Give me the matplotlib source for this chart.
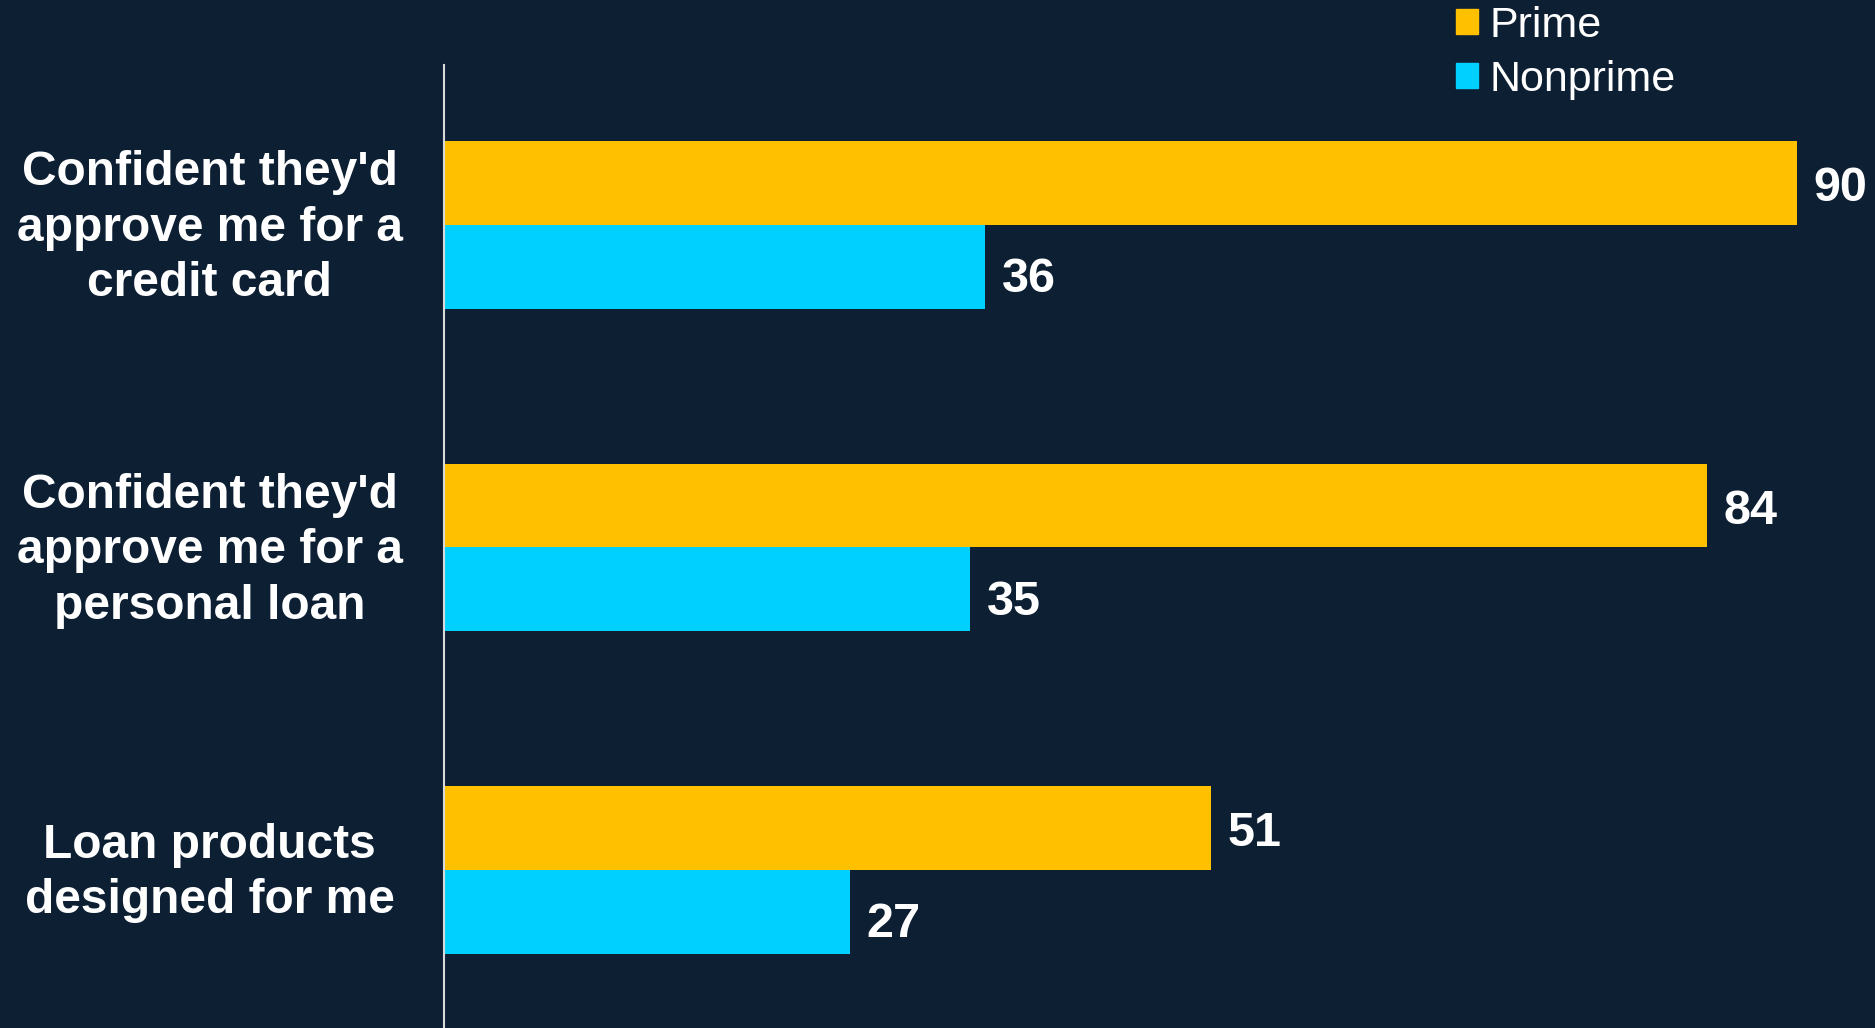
import matplotlib.pyplot as plt
from matplotlib.patches import Patch
import numpy as np

plt.rcParams['font.family'] = ['Liberation Sans', 'DejaVu Sans']

categories = ["Confident they'd\napprove me for a\ncredit card",
              "Confident they'd\napprove me for a\npersonal loan",
              "Loan products\ndesigned for me"]
prime = [90, 84, 51]
nonprime = [36, 35, 27]

bg = '#0d1f33'
c_prime = '#ffc000'
c_nonprime = '#00d0ff'

W, H = 1875, 1028
fig = plt.figure(figsize=(W / 100, H / 100), dpi=100, facecolor=bg)
# axes placed in pixel terms: left edge at the vertical axis line
ax = fig.add_axes([444 / W, 0, 1 - 444 / W, (H - 65) / H])
ax.set_facecolor(bg)

y = np.arange(len(categories))
bh = 0.26
ax.barh(y - bh / 2, prime, height=bh, color=c_prime, label='Prime')
ax.barh(y + bh / 2, nonprime, height=bh, color=c_nonprime, label='Nonprime')

ax.set_xlim(0, (W - 444) / 15.03)
ax.set_ylim(2.49, -0.496)

for i in range(len(categories)):
    ax.text(prime[i] + 1.1, y[i] - bh / 2 + 0.018, str(prime[i]), color='white',
            fontsize=35, fontweight='bold', va='center', ha='left', clip_on=False)
    ax.text(nonprime[i] + 1.1, y[i] + bh / 2 + 0.04, str(nonprime[i]), color='white',
            fontsize=35, fontweight='bold', va='center', ha='left', clip_on=False)
    ax.text(-15.6, y[i] + 0.01, categories[i], color='white', fontsize=34.5,
            fontweight='bold', ha='center', va='center', linespacing=1.3)

for s in ['top', 'right', 'bottom']:
    ax.spines[s].set_visible(False)
ax.spines['left'].set_color('#d9d9d9')
ax.spines['left'].set_linewidth(1.5)
ax.set_xticks([])
ax.set_yticks([])

handles = [Patch(color=c_prime, label='Prime'), Patch(color=c_nonprime, label='Nonprime')]
leg = fig.legend(handles=handles, loc='upper left', bbox_to_anchor=(1456 / W, 1.0 - 6 / H),
                 frameon=False, fontsize=31, handlelength=0.52, handleheight=0.52,
                 handletextpad=0.25, labelspacing=0.32, borderaxespad=0, borderpad=0)
for t in leg.get_texts():
    t.set_color('white')

fig.savefig('out.png', facecolor=bg)
